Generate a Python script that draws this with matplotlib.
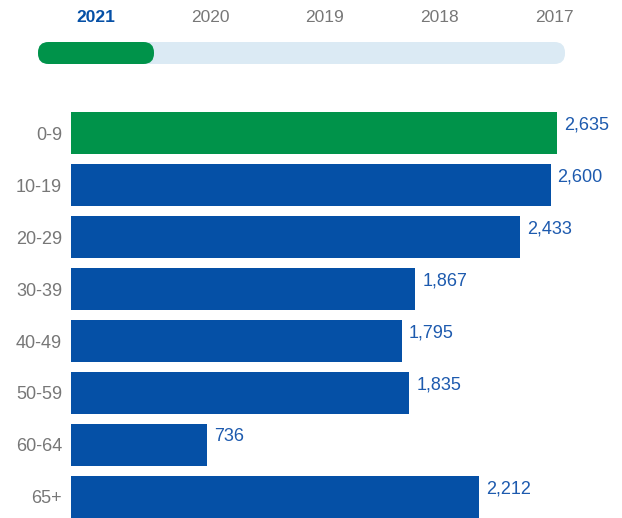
import numpy as np
import matplotlib
matplotlib.use("Agg")
import matplotlib.pyplot as plt
from matplotlib.patches import FancyBboxPatch

plt.rcParams['font.family'] = ['Liberation Sans', 'DejaVu Sans']

# data
years = ['2021', '2020', '2019', '2018', '2017']
age_groups = ['0-9', '10-19', '20-29', '30-39', '40-49', '50-59', '60-64', '65+']
cases = [2635, 2600, 2433, 1867, 1795, 1835, 736, 2212]

green = '#00934a'
blue = '#0550a6'
label_blue = '#1d5aae'
grey = '#777777'
track = '#dbeaf4'

W, H = 622, 518
fig = plt.figure(figsize=(W / 100, H / 100), dpi=100)

# bar axes in pixel layout
left, right = 71, 622
top, bottom = 107, 518
ax = fig.add_axes([left / W, 1 - bottom / H, (right - left) / W, (bottom - top) / H])
px_per_unit = 486 / 2635
ax.set_xlim(0, (right - left) / px_per_unit)
ax.set_ylim(len(age_groups) - 1 + 21 / 52, -0.5)

y = np.arange(len(age_groups))
colors = [green] + [blue] * (len(age_groups) - 1)
ax.barh(y, cases, height=42 / 52, color=colors)

for yi, v in zip(y, cases):
    ax.annotate(f"{v:,}", (v, yi), xytext=(7, 8), textcoords='offset pixels',
                va='center', ha='left', fontsize=13, color=label_blue)

ax.set_yticks(y)
ax.set_yticklabels(age_groups, fontsize=13, color=grey)
ax.tick_params(axis='y', length=0, pad=6.5)
ax.set_xticks([])
for s in ax.spines.values():
    s.set_visible(False)

# year selector on top
ov = fig.add_axes([0, 0, 1, 1])
ov.set_xlim(0, W)
ov.set_ylim(H, 0)
ov.axis('off')
ov.patch.set_alpha(0)

ov.add_patch(FancyBboxPatch((38, 42), 527, 22,
                            boxstyle='round,pad=0,rounding_size=10.5',
                            mutation_aspect=1, fc=track, ec='none'))
ov.add_patch(FancyBboxPatch((38, 42), 116, 22,
                            boxstyle='round,pad=0,rounding_size=10.5',
                            mutation_aspect=1, fc=green, ec='none'))

xs = np.linspace(96, 554, len(years))
for i, (xp, yr) in enumerate(zip(xs, years)):
    if i == 0:
        ov.text(xp, 17, yr, ha='center', va='center', fontsize=12.5,
                fontweight='bold', color=blue)
    else:
        ov.text(xp, 17, yr, ha='center', va='center', fontsize=12.5, color=grey)

fig.savefig('out.png', dpi=100)
